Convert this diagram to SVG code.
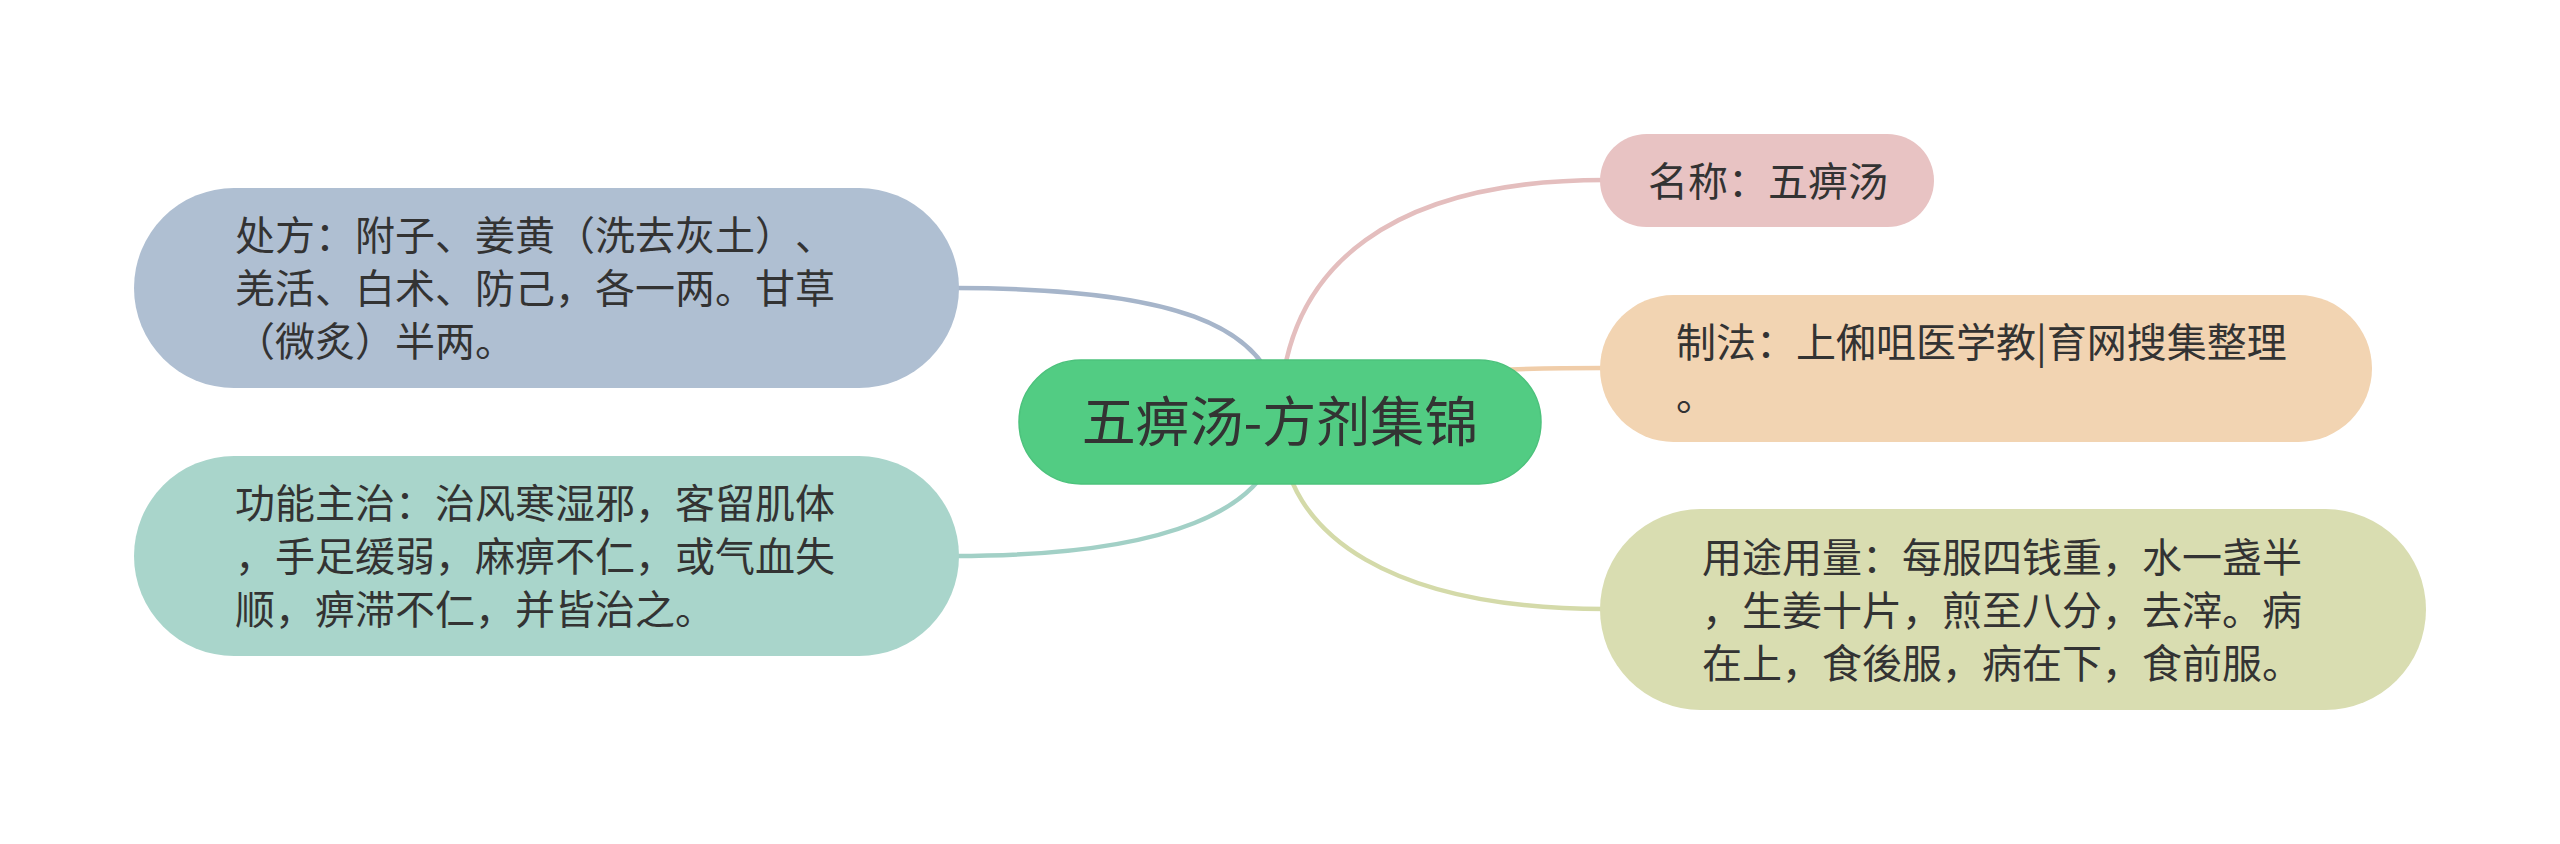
<svg xmlns="http://www.w3.org/2000/svg" width="2560" height="844" viewBox="0 0 2560 844">
<style>
.t{font-family:"Noto Sans CJK SC","Noto Sans CJK TC","Noto Sans",sans-serif;fill:#333333;font-size:40px;text-spacing-trim:space-all}
.title{font-size:54px}
.c{fill:none;stroke-width:4.5;stroke-linecap:round}
</style>
<rect x="0" y="0" width="2560" height="844" fill="#ffffff"/>
<g id="connectors">
<path class="c" stroke="#A6B5CA" d="M955,288 C1160,288 1280,320 1280,421"/>
<path class="c" stroke="#A2D0C6" d="M955,556 C1160,556 1280,513 1280,421"/>
<path class="c" stroke="#E4BEBE" d="M1605,180 C1400,180 1280,260 1280,421"/>
<path class="c" stroke="#F0CDA9" d="M1605,368 C1400,368 1280,385 1280,421"/>
<path class="c" stroke="#D4DAA9" d="M1605,609 C1400,609 1280,540 1280,421"/>
</g>
<g id="root">
<rect x="1019" y="360" width="522" height="124" rx="62" fill="#52CC83" stroke="#4CC27C" stroke-width="1.5"/>
<text class="t title" x="1280" y="442" text-anchor="middle">五痹汤-方剂集锦</text>
</g>
<g id="node-chufang">
<rect x="134" y="188" width="825" height="200" rx="100" fill="#AFBFD2"/>
<text class="t" x="235" y="250">处方：附子、姜黄（洗去灰土）<tspan x="795">、</tspan></text>
<text class="t" x="235" y="303">羌活、白术、防己，各一两。甘草</text>
<text class="t" x="235" y="356">（微炙）半两。</text>
</g>
<g id="node-gongneng">
<rect x="134" y="456" width="825" height="200" rx="100" fill="#A9D5CB"/>
<text class="t" x="235" y="518">功能主治：治风寒湿邪，客留肌体</text>
<text class="t" x="235" y="571">，手足缓弱，麻痹不仁，或气血失</text>
<text class="t" x="235" y="624">顺，痹滞不仁，并皆治之。</text>
</g>
<g id="node-mingcheng">
<rect x="1600" y="134" width="334" height="93" rx="46.5" fill="#E8C3C3"/>
<text class="t" x="1648" y="196">名称：五痹汤</text>
</g>
<g id="node-zhifa">
<rect x="1600" y="295" width="772" height="147" rx="73.5" fill="#F2D4B2"/>
<text class="t" x="1676" y="357">制法：上俰咀医学教|育网搜集整理</text>
<text class="t" x="1676" y="410">。</text>
</g>
<g id="node-yongtu">
<rect x="1600" y="509" width="826" height="201" rx="100.5" fill="#D9DDB1"/>
<text class="t" x="1702" y="572">用途用量：每服四钱重，水一盏半</text>
<text class="t" x="1702" y="625">，生姜十片，煎至八分，去滓。病</text>
<text class="t" x="1702" y="678">在上，食後服，病在下，食前服。</text>
</g>
</svg>
